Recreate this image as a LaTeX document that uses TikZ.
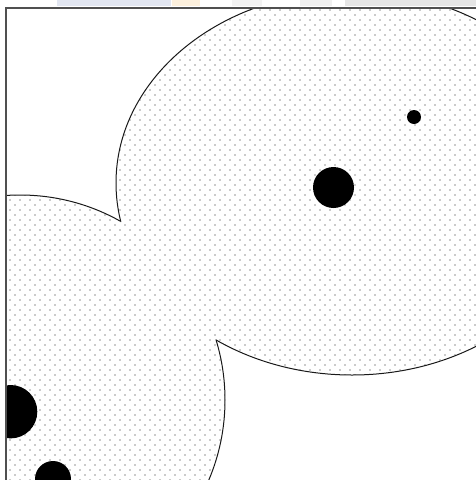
\documentclass[tikz,border=0pt]{standalone}
\usetikzlibrary{patterns.meta}
\definecolor{FrameGray}{HTML}{505050}
\definecolor{BandBlue}{HTML}{E2E6F1}
\definecolor{BandPeach}{HTML}{FCF0DD}
\definecolor{BandGray}{HTML}{E6E6E6}
\definecolor{DotGray}{HTML}{202020}

\tikzdeclarepattern{
  name=finedots,
  type=uncolored,
  bottom left={(-1pt,-1pt)},
  top right={(9pt,9pt)},
  tile size={(10pt,10pt)},
  code={
    \fill (0pt,0pt) circle (0.7pt);
    \fill (5pt,5pt) circle (0.7pt);
  }
}

\begin{document}
\begin{tikzpicture}[
    x=1pt, y=-1pt,
    blob/.style={pattern={finedots}, pattern color=DotGray},
    rim/.style={draw=black!90, line width=1pt},
    spot/.style={fill=black},
    frameline/.style={draw=FrameGray, line width=1.6pt},
    band/.style={draw=none}
]
\useasboundingbox (0,0) rectangle (476,480);

% =============================================
% faded strip above the frame
% =============================================
\fill[band, BandBlue] (57,0) rectangle (171,6);
\fill[band, BandPeach] (172,0) rectangle (200,6);
\fill[band, BandGray!50] (232,0) rectangle (262,6);
\fill[band, BandGray!60] (300,0) rectangle (332,6);
\fill[band, BandGray] (345,0) rectangle (476,6);

% =============================================
% dotted blobs, clipped to the frame
% =============================================
\begin{scope}
  \clip (6,8) rectangle (476,480);

  % both shapes in one path, so the overlap is filled once
  \fill[blob] (352,183) ellipse (236pt and 192pt) (20,400) circle (205pt);

  % outline of the union
  \begin{scope}[even odd rule]
    \clip (-50,-50) rectangle (600,600) (20,400) circle (205pt);
    \draw[rim] (352,183) ellipse (236pt and 192pt);
  \end{scope}
  \begin{scope}[even odd rule]
    \clip (-50,-50) rectangle (600,600) (352,183) ellipse (236pt and 192pt);
    \draw[rim] (20,400) circle (205pt);
  \end{scope}

  % black spots
  \fill[spot] (333.5,187.5) circle (20.5pt);
  \fill[spot] (414,117) circle (7pt);
  \fill[spot] (10.6,411.7) circle (26.7pt);
  \fill[spot] (53,479) circle (18pt);
\end{scope}

% =============================================
% frame
% =============================================
\draw[frameline] (6,480) -- (6,8) -- (476,8);

\end{tikzpicture}
\end{document}
